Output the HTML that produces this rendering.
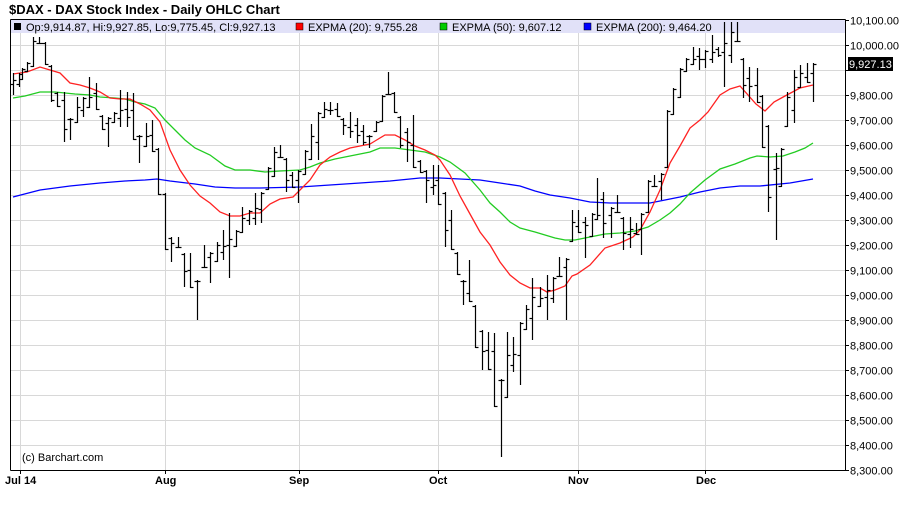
<!DOCTYPE html>
<html><head><meta charset="utf-8"><style>
body{margin:0;background:#fff;width:900px;height:511px;overflow:hidden;font-family:"Liberation Sans",Arial,sans-serif}
</style></head><body>
<svg id="c" width="900" height="511" xmlns="http://www.w3.org/2000/svg" font-family="Liberation Sans, Arial, sans-serif">
<text x="9" y="14" font-size="13" font-weight="bold" fill="#000">$DAX - DAX Stock Index - Daily OHLC Chart</text>
<rect x="10.5" y="19.5" width="835" height="450.5" fill="#fff"/>
<rect x="11" y="20" width="834" height="13" fill="#e1e1f8"/>
<g id="grid" stroke="#d8d8d8" stroke-width="1"></g>
<g id="ema" fill="none" stroke-width="1.3"></g>
<g id="bars" stroke="#000" stroke-width="1.2"></g>
<line x1="10.5" y1="19.5" x2="845.5" y2="19.5" stroke="#000"/>
<line x1="10.5" y1="19.5" x2="10.5" y2="470.5" stroke="#000"/>
<line x1="10.5" y1="470.5" x2="845.5" y2="470.5" stroke="#000"/>
<line x1="845.5" y1="19.5" x2="845.5" y2="470.5" stroke="#000"/>
<g id="ticks" stroke="#000"></g>
<g id="ylab" font-size="11" fill="#000"></g>
<rect x="848" y="57" width="45" height="14" fill="#000"/>
<text x="849" y="68" font-size="11" fill="#fff">9,927.13</text>
<g font-size="11" fill="#000">
<rect x="14" y="23" width="7" height="7" fill="#000"/>
<text x="26" y="31">Op:9,914.87, Hi:9,927.85, Lo:9,775.45, Cl:9,927.13</text>
<rect x="296" y="23" width="7" height="7" fill="#f00" stroke="#000" stroke-width="0.5"/>
<text x="308" y="31">EXPMA (20): 9,755.28</text>
<rect x="440" y="23" width="7" height="7" fill="#0c0" stroke="#000" stroke-width="0.5"/>
<text x="452" y="31">EXPMA (50): 9,607.12</text>
<rect x="584" y="23" width="7" height="7" fill="#00f" stroke="#000" stroke-width="0.5"/>
<text x="596" y="31">EXPMA (200): 9,464.20</text>
<text x="22" y="461">(c) Barchart.com</text>
</g>
<g font-size="11" font-weight="bold" fill="#000">
<text x="5" y="484">Jul 14</text>
<text x="155" y="484">Aug</text>
<text x="289" y="484">Sep</text>
<text x="429" y="484">Oct</text>
<text x="568" y="484">Nov</text>
<text x="696" y="484">Dec</text>
</g>
</svg>
<script>
const NS="http://www.w3.org/2000/svg";
function el(p,t,a){const e=document.createElementNS(NS,t);for(const k in a)e.setAttribute(k,a[k]);p.appendChild(e);return e;}
const g=document.getElementById('grid'),tk=document.getElementById('ticks'),yl=document.getElementById('ylab');
for(let i=0;i<=18;i++){const y=20+i*25+0.5;if(i>0)el(g,'line',{x1:11,y1:y,x2:845,y2:y});
 el(tk,'line',{x1:845,y1:y,x2:849,y2:y});
 const v=10100-i*100;const s=v.toLocaleString('en-US')+'.00';
 if(i!=2){const t=el(yl,'text',{x:850,y:y+4});t.textContent=s;}}
for(const x of [20.5,165.5,299.5,438.5,578.5,705.5]){el(g,'line',{x1:x,y1:33,x2:x,y2:470});el(tk,'line',{x1:x,y1:470,x2:x,y2:474});}
const B=[[13,73,95],[19,73,87],[22,68,80],[27,62,72],[33,37,67],[39,37,44],[45,42,65],[51,65,102],[57,92,107],[64,92,142],[70,118,140],[77,97,123],[83,97,117],[89,77,108],[96,83,110],[102,115,130],[108,117,147],[114,112,123],[120,90,127],[127,92,127],[133,93,140],[139,135,163],[146,123,147],[152,120,152],[158,148,195],[165,193,250],[171,237,262],[178,237,248],[184,253,287],[190,253,288],[197,280,320],[204,245,268],[210,252,283],[217,242,262],[223,230,260],[229,213,278],[236,230,247],[242,207,233],[249,210,225],[255,193,225],[261,192,223],[268,167,190],[274,147,177],[280,145,158],[286,158,192],[292,172,188],[298,170,203],[305,150,175],[311,124,160],[318,112,160],[324,102,118],[330,102,115],[337,103,117],[343,118,135],[350,112,138],[357,118,143],[363,125,145],[369,135,148],[376,121,132],[382,95,122],[388,72,95],[394,92,113],[400,116,148],[407,128,162],[413,115,168],[420,160,173],[426,170,203],[433,165,195],[438,165,205],[445,192,247],[451,210,250],[457,252,275],[463,280,305],[469,260,302],[475,305,348],[482,330,370],[488,332,370],[494,333,407],[501,379,457],[507,332,398],[513,337,372],[520,322,385],[526,305,330],[532,278,340],[540,287,307],[547,275,320],[553,277,303],[559,257,277],[566,258,320],[572,210,242],[578,210,233],[585,217,258],[592,213,237],[597,178,220],[603,192,238],[611,207,238],[617,195,213],[623,217,250],[630,217,248],[636,223,235],[641,213,255],[648,180,213],[654,175,187],[661,173,200],[667,110,168],[673,88,115],[680,68,98],[686,58,72],[693,47,65],[699,48,70],[705,50,68],[712,35,63],[718,47,57],[724,22,87],[731,22,63],[737,22,42],[743,58,98],[749,67,102],[757,68,103],[762,95,148],[768,125,212],[776,153,240],[781,148,187],[787,92,127],[794,70,123],[800,65,88],[807,63,83],[813,63,102]];
const bg=document.getElementById('bars');
for(let i=0;i<B.length;i++){const [x,h,l]=B[i];const xx=x+0.5;
 const pm=i>0?(B[i-1][1]+B[i-1][2])/2:(h+l)/2, nm=i<B.length-1?(B[i+1][1]+B[i+1][2])/2:h;
 let o=Math.min(Math.max(pm,h+1),l-1), c=Math.min(Math.max(nm,h+1),l-1);
 if(i==B.length-1)c=h+1;
 el(bg,'line',{x1:xx,y1:h,x2:xx,y2:l});
 el(bg,'line',{x1:xx-3,y1:Math.round(o)+0.5,x2:xx,y2:Math.round(o)+0.5});
 el(bg,'line',{x1:xx,y1:Math.round(c)+0.5,x2:xx+3,y2:Math.round(c)+0.5});}
const R="13,74 27,72 40,67 50,70 60,73 70,83 80,85 90,88 100,92 110,98 120,99 130,99 140,104 150,110 160,122 170,150 180,170 190,185 200,196 210,203 220,212 230,216 240,216 250,213 260,213 270,204 280,199 293,197 300,190 310,180 320,165 330,157 340,152 350,148 360,146 370,144 375,141 385,135 395,135 405,140 415,146 425,150 435,155 440,160 450,175 460,196 470,214 480,232 490,245 500,262 510,275 520,283 530,288 540,288 547,292 555,290 565,286 572,276 577,274 590,265 605,248 620,243 633,237 640,230 650,212 660,190 670,163 680,146 690,128 700,120 708,112 720,95 730,89 740,86 756,104 765,111 774,102 785,96 800,88 813,85";
const G="13,98 25,96 40,92 55,92 65,93 75,94 90,95 100,97 115,98 125,99 135,102 145,104 155,108 165,120 175,130 185,140 195,148 210,155 225,166 235,170 250,170 265,172 280,171 300,170 310,167 320,163 335,159 350,156 370,152 380,148 395,148 410,150 425,152 440,157 450,162 465,173 480,190 490,203 500,212 510,222 520,228 535,232 555,238 565,240 575,240 590,237 605,234 620,233 635,231 648,227 660,220 670,213 680,204 690,193 705,180 720,169 735,164 750,158 757,156 770,157 783,156 795,152 805,148 813,143";
const Bl="13,197 40,190 70,186 100,183 125,181 145,180 157,179 170,181 195,184 215,187 235,188 260,188 300,187 330,185 360,183 390,181 420,178 440,178 460,179 480,180 500,183 520,186 535,191 550,195 570,198 590,202 610,203 630,203 650,203 660,201 680,197 700,192 720,188 740,186 760,186 790,183 813,179";
const e=document.getElementById('ema');
el(e,'polyline',{points:Bl,stroke:'#00f'});el(e,'polyline',{points:G,stroke:'#2c2'});el(e,'polyline',{points:R,stroke:'#f22'});
</script>
</body></html>
